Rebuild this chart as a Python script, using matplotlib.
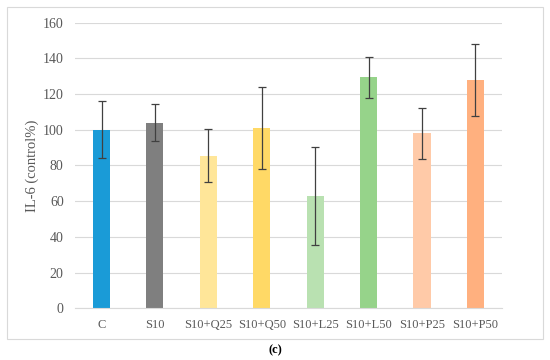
import matplotlib
matplotlib.use("Agg")
import matplotlib.pyplot as plt
from matplotlib.patches import Rectangle

# data
categorias = ["C", "S10", "S10+Q25", "S10+Q50", "S10+L25", "S10+L50", "S10+P25", "S10+P50"]
valores = [100, 104, 85.5, 101, 63, 129.5, 98, 128]
errores = [16, 10.5, 15, 23, 27.5, 11.5, 14.3, 20]
colores = ["#1A9BD7", "#7F7F7F", "#FFE699", "#FFD966", "#B9E1B1", "#96D38A", "#FFCAA8", "#FFB07F"]
yticks = [0, 20, 40, 60, 80, 100, 120, 140, 160]

plt.rcParams['font.family'] = ['Liberation Serif', 'DejaVu Serif']
gris = "#595959"

fig = plt.figure(figsize=(5.5, 3.6), dpi=100)
ax = fig.add_axes([0.136, 0.1436, 0.777, 0.7934])

x = range(len(categorias))
ax.bar(x, valores, width=0.32, color=colores, zorder=2,
       yerr=errores, error_kw=dict(ecolor="#404040", elinewidth=0.9, capsize=2.7, capthick=0.9))

ax.set_xlim(-0.5, len(categorias) - 0.5)
ax.set_ylim(0, 160)
ax.set_yticks(yticks)
ax.set_xticks(list(x))
ax.set_xticklabels(categorias)
ax.tick_params(axis="x", length=0, labelsize=9, colors=gris, pad=8)
ax.tick_params(axis="y", length=0, labelsize=10, colors=gris, pad=8)
ax.grid(axis="y", color="#D9D9D9", linewidth=0.8, zorder=0)
for s in ["top", "right", "left"]:
    ax.spines[s].set_visible(False)
ax.spines["bottom"].set_color("#D9D9D9")
ax.set_ylabel("IL-6 (control%)", fontsize=10.5, color=gris, labelpad=3)

# marco exterior
fig.patches.append(Rectangle((7 / 550, 1 - 339 / 360), 536 / 550, 332 / 360,
                             transform=fig.transFigure, fill=False,
                             edgecolor="#D9D9D9", linewidth=0.8))
fig.text(0.5, 1 - 350 / 360, "(c)", ha="center", va="center", fontsize=9, fontweight="bold")

fig.savefig("out.png", dpi=100)
